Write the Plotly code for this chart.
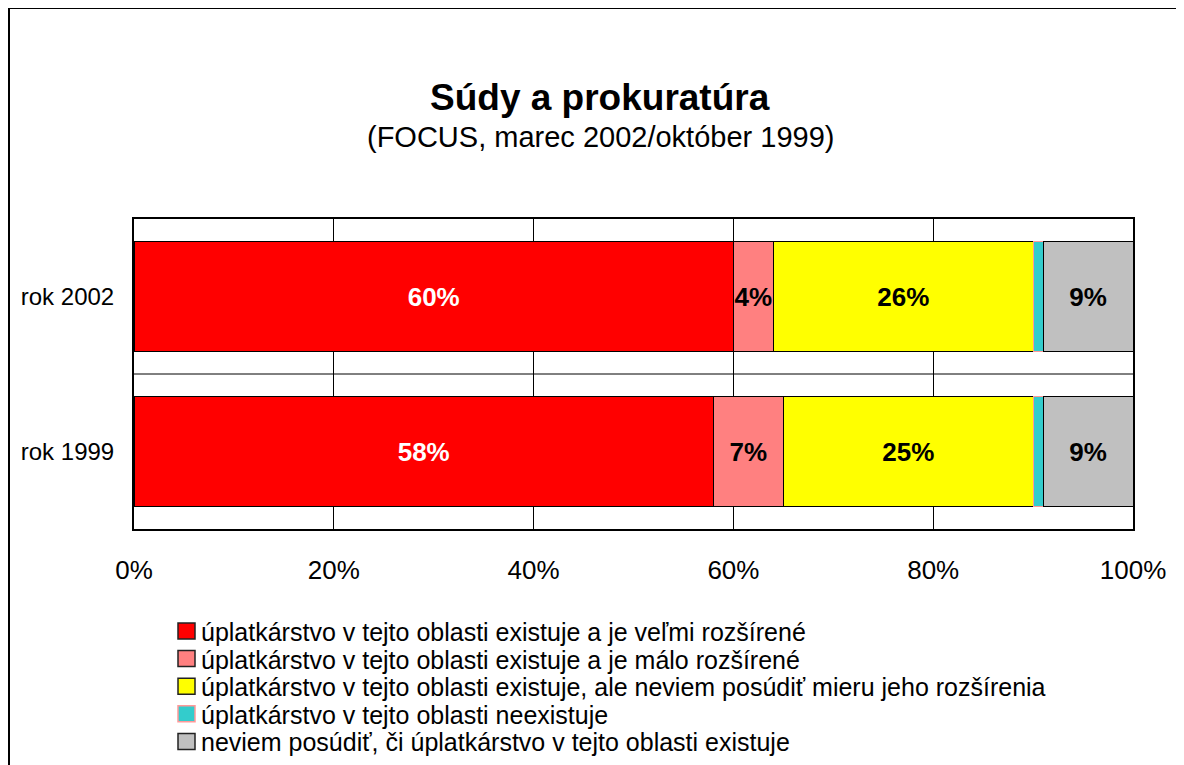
import plotly.graph_objects as go

categories = ["rok 2002", "rok 1999"]
series_names = [
    "úplatkárstvo v tejto oblasti existuje a je veľmi rozšírené",
    "úplatkárstvo v tejto oblasti existuje a je málo rozšírené",
    "úplatkárstvo v tejto oblasti existuje, ale neviem posúdiť mieru jeho rozšírenia",
    "úplatkárstvo v tejto oblasti neexistuje",
    "neviem posúdiť, či úplatkárstvo v tejto oblasti existuje",
]
velmi_rozsirene = [60, 58]
malo_rozsirene = [4, 7]
neviem_mieru = [26, 25]
neexistuje = [1, 1]
neviem_ci = [9, 9]
series_values = [velmi_rozsirene, malo_rozsirene, neviem_mieru, neexistuje, neviem_ci]
colors = ["#FF0000", "#FF8080", "#FFFF00", "#33CCCC", "#C0C0C0"]
line_colors = ["#000000", "#000000", "#000000", "#FF9999", "#000000"]
label_colors = ["white", "black", "black", "black", "black"]
show_labels = [True, True, True, False, True]
tick_vals = [0, 20, 40, 60, 80, 100]
tick_text = ["0%", "20%", "40%", "60%", "80%", "100%"]
title = "Súdy a prokuratúra"
subtitle = "(FOCUS, marec 2002/október 1999)"

FONT = "Liberation Sans, Arial, sans-serif"

# screen-pixel -> paper helpers (plot area spans x 134..1133, y 219..529 on screen)
def px(x):
    return (x - 134) / 999.0

def py(y):
    return (529 - y) / 310.0

fig = go.Figure()
for name, vals, col, lc, tc, sl in zip(series_names, series_values, colors, line_colors, label_colors, show_labels):
    fig.add_trace(go.Bar(
        y=categories, x=vals, name=name, orientation="h",
        marker=dict(color=col, line=dict(color=lc, width=1)),
        text=[f"{v}%" for v in vals] if sl else None,
        textposition="inside" if sl else "none",
        insidetextanchor="middle",
        textangle=0,
        textfont=dict(family=FONT, size=26, color=tc, weight="bold"),
        constraintext="none",
        showlegend=False,
    ))

annotations = [
    dict(text=f"<b>{title}</b>", x=px(600), y=py(98), xref="paper", yref="paper",
         showarrow=False, font=dict(size=37, family=FONT), xanchor="center", yanchor="middle"),
    dict(text=subtitle, x=px(600), y=py(137), xref="paper", yref="paper",
         showarrow=False, font=dict(size=29, family=FONT), xanchor="center", yanchor="middle"),
]
shapes = [
    dict(type="line", xref="paper", yref="y", x0=0, x1=1, y0=0.5, y1=0.5,
         line=dict(color="black", width=1)),
    # outer frame (top and left edges visible in the original)
    dict(type="line", xref="paper", yref="paper", x0=px(9), x1=px(1200), y0=py(8), y1=py(8),
         line=dict(color="black", width=2)),
    dict(type="line", xref="paper", yref="paper", x0=px(9), x1=px(9), y0=py(8), y1=py(800),
         line=dict(color="black", width=2)),
]
# compact manual legend like the original
row0, row_step = 631, 27.6
for i, (name, col, lc) in enumerate(zip(series_names, colors, line_colors)):
    cy = row0 + i * row_step
    shapes.append(dict(type="rect", xref="paper", yref="paper",
                       x0=px(178), x1=px(195), y0=py(cy + 8), y1=py(cy - 8),
                       fillcolor=col, line=dict(color="#222222" if i != 3 else lc, width=1.5)))
    annotations.append(dict(text=name, x=px(199), y=py(cy + 1), xref="paper", yref="paper",
                            showarrow=False, xanchor="left", yanchor="middle",
                            font=dict(size=25, family=FONT, color="black")))

fig.update_layout(
    barmode="stack",
    bargap=0.284,
    width=1184, height=765,
    margin=dict(l=126, r=59, t=211, b=244),
    paper_bgcolor="white", plot_bgcolor="white",
    font=dict(family=FONT, size=22, color="black"),
    uniformtext=dict(minsize=26, mode="show"),
    showlegend=False,
    xaxis=dict(
        range=[0, 100], tickvals=tick_vals, ticktext=tick_text,
        showgrid=True, gridcolor="black", gridwidth=1,
        showline=True, linecolor="black", linewidth=2, mirror=True,
        ticks="", ticklabelstandoff=17, zeroline=False,
        tickfont=dict(size=26, family=FONT),
    ),
    yaxis=dict(
        autorange="reversed", showgrid=False,
        showline=True, linecolor="black", linewidth=2, mirror=True,
        ticks="", ticklabelstandoff=13,
        tickfont=dict(size=24, family=FONT),
    ),
    annotations=annotations,
    shapes=shapes,
)

fig.write_html("out.html")
